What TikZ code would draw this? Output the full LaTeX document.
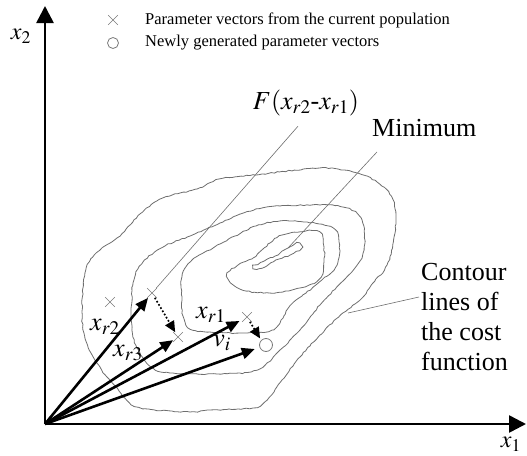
\documentclass[tikz,border=0pt]{standalone}
\usepackage{mathptmx}
\usepackage{fontspec}
\setmainfont{Liberation Serif}
\definecolor{ContourGray}{HTML}{6E6E6E}
\definecolor{MarkGray}{HTML}{7A7A7A}
\usepackage{tikz}
\usetikzlibrary{arrows.meta,shapes.misc,decorations.pathmorphing}
\pgfmathsetseed{11}

\begin{document}
\begin{tikzpicture}[
    x=1pt, y=-1pt,
    axis/.style={
        line width=2.6pt,
        -{Triangle[length=17pt,width=17pt]}
    },
    vec/.style={
        line width=2.6pt,
        -{Triangle[length=13pt,width=11pt]}
    },
    diffvec/.style={
        line width=1.7pt,
        dotted,
        -{Triangle[length=11pt,width=10pt]}
    },
    contour/.style={
        draw=ContourGray,
        line width=0.8pt,
        decorate,
        decoration={random steps,segment length=3pt,amplitude=0.6pt}
    },
    leader/.style={draw=ContourGray, line width=0.6pt},
    lab/.style={font=\fontsize{26}{30}\selectfont, inner sep=0pt},
    legtext/.style={font=\fontsize{16.5}{19}\selectfont, anchor=west, inner sep=0pt},
    popmark/.style={
        draw=MarkGray,
        cross out,
        minimum size=9pt,
        inner sep=0pt,
        line width=0.6pt
    },
    newmark/.style={
        draw=MarkGray,
        circle,
        minimum size=13pt,
        inner sep=0pt,
        line width=0.8pt
    }
]

\useasboundingbox (0,0) rectangle (527,455);

% ---------------------------------------------------------
% Legenda
% ---------------------------------------------------------

\node[popmark] (legpop) at (113,20) {};
\node[legtext] (legpoptxt) at (145,20)
{Parameter vectors from the current population};

\node[newmark, minimum size=11pt] (legnew) at (113,43) {};
\node[legtext] (legnewtxt) at (145,43)
{Newly generated parameter vectors};

% ---------------------------------------------------------
% Curve di livello della funzione costo
% ---------------------------------------------------------

\draw[contour] plot[smooth cycle, tension=0.6] coordinates {
    (85,273) (100,250) (120,236) (140,214) (163,198) (197,189)
    (220,179) (262,174) (320,168) (353,172) (377,182) (393,200)
    (395,233) (387,265) (373,283) (360,300) (343,313) (320,335)
    (300,357) (282,380) (267,400) (253,408) (210,410) (190,412)
    (137,407) (117,388) (97,363) (83,330)};

\draw[contour] plot[smooth cycle, tension=0.6] coordinates {
    (133,283) (143,262) (165,246) (190,236) (220,223) (262,208)
    (320,205) (347,208) (362,220) (364,250) (355,268) (343,281)
    (320,305) (300,330) (280,350) (257,370) (217,374) (170,373)
    (153,368) (140,353) (132,330)};

\draw[contour] plot[smooth cycle, tension=0.6] coordinates {
    (182,300) (182,277) (192,260) (213,248) (235,236) (256,226)
    (280,221) (307,222) (333,228) (339,242) (337,265) (322,280)
    (302,296) (290,306) (283,318) (272,330) (247,333) (210,332)
    (190,329) (183,316)};

\draw[contour] plot[smooth cycle, tension=0.6] coordinates {
    (227,276) (238,265) (253,258) (270,243) (283,235) (317,231)
    (324,247) (321,277) (300,288) (270,293) (240,289)};

\draw[contour] plot[smooth cycle, tension=0.6] coordinates {
    (253,268) (262,262) (275,256) (288,248) (297,243) (301,248)
    (290,255) (276,260) (262,268)};

% ---------------------------------------------------------
% Assi
% ---------------------------------------------------------

\coordinate (O)    at (45,424);
\coordinate (ytop) at (45,6);
\coordinate (xend) at (526,424);

\draw[axis] (O) -- (ytop);
\draw[axis] (O) -- (xend);

\node[lab, font=\fontsize{24}{28}\selectfont] (x2lab) at (21,36) {$x_2$};
\node[lab, font=\fontsize{24}{28}\selectfont] (x1lab) at (511,444) {$x_1$};

% ---------------------------------------------------------
% Vettori della popolazione
% ---------------------------------------------------------

\node[popmark] (xoth) at (110,302) {};
\node[popmark] (xr2)  at (152,293) {};
\node[popmark] (xr3)  at (178,337) {};
\node[popmark] (xr1)  at (247,317) {};
\node[newmark] (vnew) at (266,345) {};

\draw[vec] (O) -- (xr2);
\draw[vec] (O) -- (xr3);
\draw[vec, shorten >=3pt] (O) -- (xr1);
\draw[vec, shorten >=5pt] (O) -- (vnew);

\draw[diffvec] (xr2) -- (xr3);
\draw[diffvec, shorten >=2pt] (xr1) -- (vnew.north west);

\node[lab] (xr2lab) at (105,327) {$x_{r2}$};
\node[lab] (xr3lab) at (128,353) {$x_{r3}$};
\node[lab] (xr1lab) at (211,315) {$x_{r1}$};
\node[lab] (vilab)  at (222,343) {$v_i$};

% ---------------------------------------------------------
% Etichette e richiami
% ---------------------------------------------------------

\node[lab] (Flab) at (306,103) {$F(x_{r2}$-$x_{r1})$};
\node[lab, anchor=west] (minlab) at (372,128) {Minimum};
\node[lab, anchor=west, align=left] (contlab) at (421,317)
{Contour\\lines of\\the cost\\function};

\coordinate (minpt)  at (288,248);
\coordinate (contpt) at (348,313);

\draw[leader] ([xshift=-8pt,yshift=-10pt]Flab.south) -- (xr2);
\draw[leader] ([xshift=5pt,yshift=-15pt]minlab.south west) -- (minpt);
\draw[leader] ([xshift=-2pt,yshift=20pt]contlab.west) -- (contpt);

\end{tikzpicture}
\end{document}
